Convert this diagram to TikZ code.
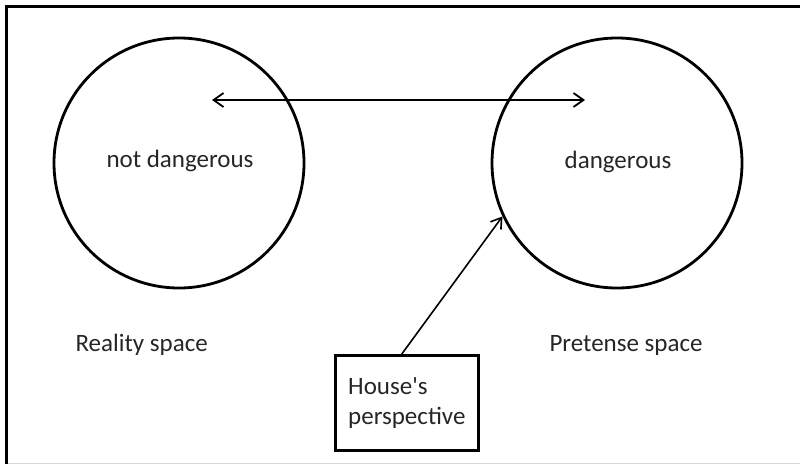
\documentclass[tikz,border=0pt]{standalone}
\usepackage{fontspec}
\setmainfont{Carlito}[Ligatures=TeXOff]
\usetikzlibrary{arrows.meta,calc}
\tikzset{
  space/.style={circle, draw, line width=2.8pt, minimum size=250pt, inner sep=0pt},
  label text/.style={font=\fontsize{25}{31}\selectfont, text=black!85},
  viewbox/.style={draw, line width=2.6pt, minimum width=143pt, minimum height=95pt,
    align=left, font=\fontsize{25}{30}\selectfont, text=black!85},
  link/.style={line width=1.8pt, {Straight Barb[length=10pt,width=14pt,line width=1.8pt]}-{Straight Barb[length=10pt,width=14pt,line width=1.8pt]}},
  pointer/.style={line width=1.6pt, -{Straight Barb[length=10pt,width=13pt,line width=1.6pt]}}
}
\begin{document}
\begin{tikzpicture}[x=1pt,y=-1pt]
  \useasboundingbox (0,0) rectangle (800,464);
  % frame: top and left edges, faint bottom edge
  \draw[black!15, line width=1pt] (8,463) -- (800,463);
  \draw[line width=3pt] (6.5,464) -- (6.5,6) -- (800,6);

  % the two spaces
  \node[space] (reality) at (179,163) {};
  \node[space] (pretense) at (617,163) {};
  \node[label text] (realtxt) at (180,161) {not dangerous};
  \node[label text] (pretxt) at (618,162) {dangerous};

  % space names
  \node[label text, anchor=west] (realname) at (72,345) {Reality space};
  \node[label text, anchor=west] (prename) at (546,345) {Pretense space};

  % viewpoint box
  \node[viewbox, anchor=north west] (house) at (334,354) {House's\\perspective};

  % mapping between spaces
  \coordinate (lend) at (212,100);
  \coordinate (rend) at (585,100);
  \draw[link] (lend) -- (rend);

  % viewpoint arrow
  \coordinate (hstart) at ([xshift=-5pt]house.north);
  \draw[pointer] (hstart) -- (pretense.205);
\end{tikzpicture}
\end{document}
